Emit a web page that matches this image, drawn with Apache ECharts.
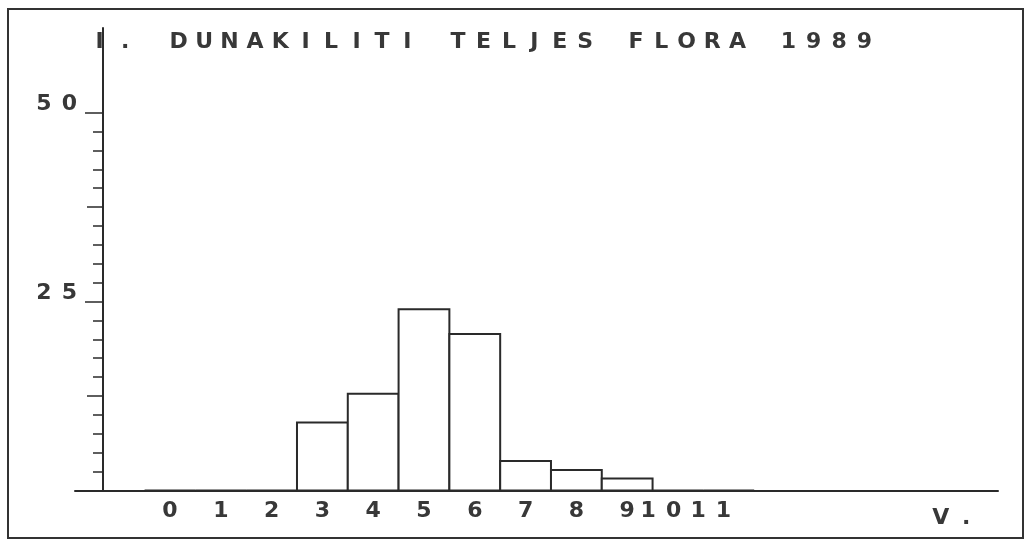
<!DOCTYPE html>
<html>
<head>
<meta charset="utf-8">
<script src="https://cdn.jsdelivr.net/npm/echarts@6/dist/echarts.min.js"></script>
<style>
html,body{margin:0;padding:0;background:#fff;}
#chart{width:1029px;height:547px;}
</style>
</head>
<body>
<div id="chart"></div>
<script>
// ---- data ----
const TITLE = 'DUNAKILITI TELJES FLORA 1989';
const Y_NAME = 'I.';
const X_NAME = 'V.';
const CATEGORIES = [0, 1, 2, 3, 4, 5, 6, 7, 8, 9, 10, 11];
const COUNTS = [0, 0, 0, 9, 12.8, 24, 20.7, 3.9, 2.7, 1.6, 0, 0];
const X_LABELS_MAIN = [0, 1, 2, 3, 4, 5, 6, 7, 8, 9];
const X_LABEL_TEN = [10];
const X_LABEL_ELEVEN = [11];
const Y_MAJOR_TICKS = [25, 50];
const Y_MID_TICKS = [12.5, 37.5];
const Y_MINOR_TICKS = [2.5, 5, 7.5, 10, 15, 17.5, 20, 22.5, 27.5, 30, 32.5, 35, 40, 42.5, 45, 47.5];

// ---- style ----
const INK = '#2a2a2a';
const TXT = '#383838';
const PITCH = 25.4;
const FONT = { fontFamily: 'DejaVu Sans', fontWeight: 'bold', fontSize: 22, color: TXT };
const RICH = {
  c: Object.assign({ width: PITCH, align: 'center', lineHeight: 22 }, FONT),
  p10: { width: 34, align: 'center', lineHeight: 22 },
  p11: { width: 36, align: 'center', lineHeight: 22 }
};
function mono(str, pad) {
  let s = String(str).split('').map(ch => '{c|' + ch + '}').join('');
  if (pad) s += '{' + pad + '|}';
  return s;
}

const chart = echarts.init(document.getElementById('chart'));

const Y_MAX = 61.2;
const X_MIN = -1.87, X_MAX = 16.3;

const yBase = {
  type: 'value', min: 0, max: Y_MAX, position: 'left', offset: -28,
  splitLine: { show: false }
};
function xAxisWith(values, pad, showLine) {
  return {
    type: 'value', min: X_MIN, max: X_MAX, position: 'bottom', offset: 0,
    splitLine: { show: false },
    axisLine: { show: showLine, onZero: false, lineStyle: { color: INK, width: 2 } },
    axisTick: { show: false },
    axisLabel: {
      customValues: values,
      margin: 10,
      hideOverlap: false,
      formatter: v => mono(v, pad),
      rich: RICH
    }
  };
}

chart.setOption({
  animation: false,
  backgroundColor: '#fff',
  title: [
    { text: mono(TITLE), left: 161, top: 26, textStyle: { rich: RICH } },
    { text: mono(Y_NAME), left: 82, top: 26, textStyle: { rich: RICH } },
    { text: mono(X_NAME), left: 923, top: 502, textStyle: { rich: RICH } }
  ],
  graphic: [{
    type: 'rect', silent: true,
    shape: { x: 8, y: 9, width: 1015, height: 529 },
    style: { fill: 'none', stroke: '#333', lineWidth: 2 }
  }],
  grid: { left: 75, right: 31, top: 28, bottom: 56.5, containLabel: false },
  xAxis: [
    xAxisWith(X_LABELS_MAIN, null, true),
    xAxisWith(X_LABEL_TEN, 'p10', false),
    xAxisWith(X_LABEL_ELEVEN, 'p11', false)
  ],
  yAxis: [
    Object.assign({}, yBase, {
      axisLine: { show: true, onZero: false, lineStyle: { color: INK, width: 2 } },
      axisTick: { show: true, customValues: Y_MINOR_TICKS, length: 10, lineStyle: { color: INK, width: 1.5 } },
      axisLabel: { show: false }
    }),
    Object.assign({}, yBase, {
      axisLine: { show: false, onZero: false },
      axisTick: { show: true, customValues: Y_MID_TICKS, length: 16, lineStyle: { color: INK, width: 1.5 } },
      axisLabel: { show: false }
    }),
    Object.assign({}, yBase, {
      axisLine: { show: false, onZero: false },
      axisTick: { show: true, customValues: Y_MAJOR_TICKS, length: 18, lineStyle: { color: INK, width: 1.5 } },
      axisLabel: {
        show: true, customValues: Y_MAJOR_TICKS, margin: 21,
        hideOverlap: false,
        padding: [0, 0, 16, 0],
        formatter: v => mono(v),
        rich: RICH
      }
    })
  ],
  series: [{
    type: 'custom',
    xAxisIndex: 0, yAxisIndex: 0,
    data: CATEGORIES.map((c, i) => [c, COUNTS[i]]),
    encode: { x: 0, y: 1 },
    renderItem: function (params, api) {
      const v = api.value(0), h = api.value(1);
      const tl = api.coord([v - 0.5, h]);
      const br = api.coord([v + 0.5, 0]);
      return {
        type: 'rect',
        shape: { x: tl[0], y: tl[1], width: br[0] - tl[0], height: br[1] - tl[1] },
        style: { fill: '#fff', stroke: INK, lineWidth: 2 }
      };
    }
  }]
});
</script>
</body>
</html>
